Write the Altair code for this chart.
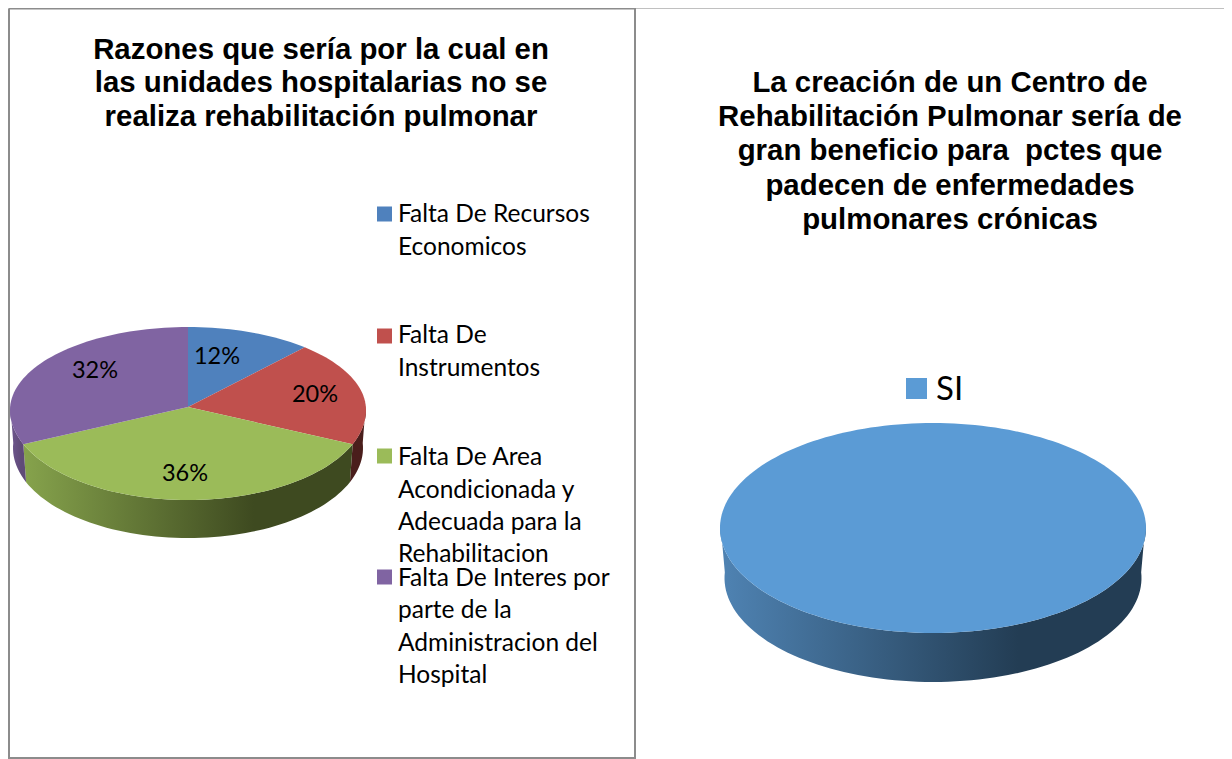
import math
import altair as alt
import pandas as pd

# --- values
categories = ["Falta De Recursos Economicos", "Falta De Instrumentos",
              "Falta De Area Acondicionada y Adecuada para la Rehabilitacion",
              "Falta De Interes por parte de la Administracion del Hospital"]
shares = [12, 20, 36, 32]
share_labels = ["12%", "20%", "36%", "32%"]
right_category = ["SI"]
right_shares = [100]
title_left = ["Razones que sería por la cual en", "las unidades hospitalarias no se",
              "realiza rehabilitación pulmonar"]
title_right = ["La creación de un Centro de", "Rehabilitación Pulmonar sería de",
               "gran beneficio para\u00a0 pctes que", "padecen de enfermedades", "pulmonares crónicas"]
legend_lines = [["Falta De Recursos", "Economicos"], ["Falta De", "Instrumentos"],
                ["Falta De Area", "Acondicionada y", "Adecuada para la", "Rehabilitacion"],
                ["Falta De Interes por", "parte de la", "Administracion del", "Hospital"]]

# --- styles and layout (page pixels)
colors = ["#4f81bd", "#c0504d", "#9bbb59", "#8064a2"]
si_color = "#5b9bd5"
side_stops = [["#4a1e1c", "#4a1e1c"], ["#4a1e1c", "#4a1e1c"],
              ["#86a34c", "#3e4a20"], ["#6f5790", "#5f4a78"]]
L = dict(cx=188, cy=410, rx=178, ry_back=83, ry_front=90, ax=188, ay=407,
         rx2=175, cy2=448, ry2=90)
R = dict(cx=933, cy=528, rx=213, ry_back=105, ry_front=105, ax=933, ay=528,
         rx2=208.5, cy2=578, ry2=104)
WARP = 3.2  # foreshortening of the tilted disc, degrees
label_xy = [(217, 357), (315, 395), (185, 474), (95, 371)]
legend_square_y = [214, 336, 456, 577]
legend_line_y = [[215, 248], [336, 369], [458, 491, 523, 555], [579, 611, 644, 676]]
title_left_y = [50, 83, 117]
title_right_y = [83, 117, 151, 186, 220]

W, H = 1216, 751
X = alt.Scale(domain=[8, 1224], range=[0, W])
Y = alt.Scale(domain=[8, 759], range=[0, H])


def warp(deg):
    return deg - WARP * math.sin(math.radians(deg))


def top_pt(p, deg):
    a = math.radians(warp(deg))
    c = math.cos(a)
    return p["cx"] + p["rx"] * math.sin(a), p["cy"] - (p["ry_back"] if c > 0 else p["ry_front"]) * c


def low_pt(p, deg):
    a = math.radians(warp(deg))
    return p["cx"] + p["rx2"] * math.sin(a), p["cy2"] - p["ry2"] * math.cos(a)


def sweep(a, b):
    n = max(2, int(abs(b - a) / 2))
    return [a + (b - a) * i / n for i in range(n + 1)]


def poly(points, fill):
    df = pd.DataFrame({"x": [q[0] for q in points], "y": [q[1] for q in points],
                       "i": range(len(points))})
    return alt.Chart(df).mark_line(fill=fill, strokeOpacity=0, clip=False).encode(
        x=alt.X("x:Q", scale=X, axis=None),
        y=alt.Y("y:Q", scale=Y, axis=None),
        order="i:Q",
    )


def grad(c1, c2):
    return alt.Gradient(gradient="linear", x1=0, x2=1, y1=0, y2=0,
                        stops=[alt.GradientStop(color=c1, offset=0),
                               alt.GradientStop(color=c2, offset=0.7),
                               alt.GradientStop(color=c2, offset=1)])


def pie(p, vals, cols, stops):
    total = sum(vals)
    sides, tops = [], []
    start = 0.0
    for v, col, st in zip(vals, cols, stops):
        end = start + 360 * v / total
        a, b = max(start, 90), min(end, 270)
        if a < b:
            pts = [top_pt(p, d) for d in sweep(a, b)] + [low_pt(p, d) for d in sweep(b, a)]
            sides.append(poly(pts, grad(*st)))
        arc = [top_pt(p, d) for d in sweep(start, end)]
        tops.append(poly(arc if v == total else [(p["ax"], p["ay"])] + arc, col))
        start = end
    return sides + tops


def text_layer(rows, **mark):
    df = pd.DataFrame(rows, columns=["x", "y", "t"])
    return alt.Chart(df).mark_text(baseline="middle", **mark).encode(
        x=alt.X("x:Q", scale=X, axis=None), y=alt.Y("y:Q", scale=Y, axis=None), text="t:N")


def squares(rows, size):
    df = pd.DataFrame(rows, columns=["x", "y", "c"])
    return alt.Chart(df).mark_square(size=size, opacity=1).encode(
        x=alt.X("x:Q", scale=X, axis=None), y=alt.Y("y:Q", scale=Y, axis=None),
        color=alt.Color("c:N", scale=None))


def frame(pts, color, width):
    df = pd.DataFrame({"x": [q[0] for q in pts], "y": [q[1] for q in pts], "i": range(len(pts))})
    return alt.Chart(df).mark_line(color=color, strokeWidth=width).encode(
        x=alt.X("x:Q", scale=X, axis=None), y=alt.Y("y:Q", scale=Y, axis=None), order="i:Q")


layers = [
    frame([(635, 8.5), (1224, 8.5)], "#c0c0c0", 1),
    frame([(9, 8.5), (635, 8.5), (635, 758), (9, 758), (9, 8.5)], "#8c8c8c", 2),
]
layers += pie(L, shares, colors, side_stops)
layers += pie(R, right_shares, [si_color], [["#4f83b3", "#233d54"]])

layers.append(text_layer([(321, y, t) for y, t in zip(title_left_y, title_left)],
                         font="Liberation Sans", fontWeight="bold", fontSize=29.4, align="center", color="black"))
layers.append(text_layer([(950, y, t) for y, t in zip(title_right_y, title_right)],
                         font="Liberation Sans", fontWeight="bold", fontSize=29.4, align="center", color="black"))
layers.append(text_layer([(x, y, t) for (x, y), t in zip(label_xy, share_labels)],
                         font="Lato", fontSize=23.5, align="center", color="black"))
layers.append(squares([(384.5, y, c) for y, c in zip(legend_square_y, colors)], 225))
layers.append(text_layer([(398, y, t) for ys, ts in zip(legend_line_y, legend_lines) for y, t in zip(ys, ts)],
                         font="Lato", fontSize=24.5, align="left", color="black"))
layers.append(squares([(916.5, 388.5, si_color)], 441))
layers.append(text_layer([(936, 390, right_category[0])], font="Lato", fontSize=33, align="left", color="black"))

chart = alt.layer(*layers).properties(
    width=W, height=H, padding=0, autosize=alt.AutoSizeParams(type="none"),
).configure_view(stroke=None).configure(background="white")

chart.save("out.html", embed_options={"renderer": "svg", "actions": False})
